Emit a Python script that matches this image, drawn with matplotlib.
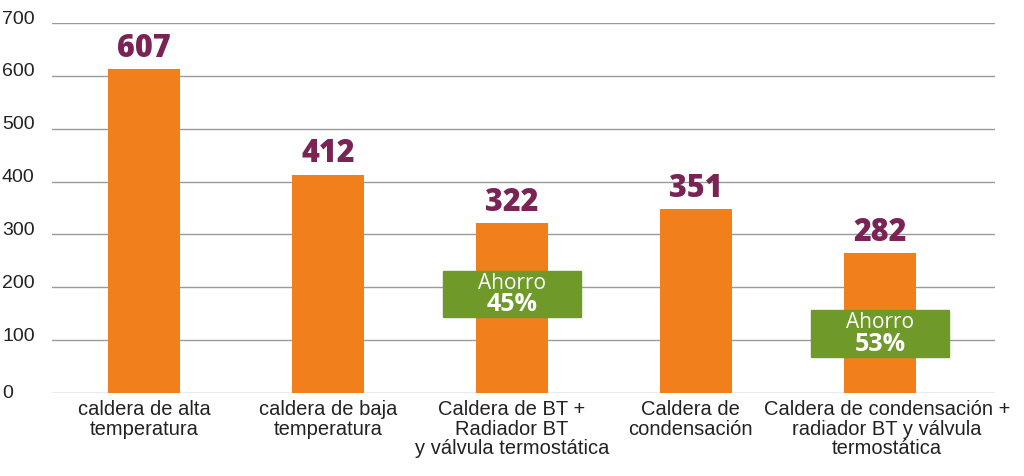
import numpy as np
import matplotlib.pyplot as plt
import matplotlib.transforms as mtransforms

categories = ["caldera de alta\ntemperatura",
              "caldera de baja\ntemperatura",
              "Caldera de BT +\nRadiador BT\ny válvula termostática",
              "Caldera de\ncondensación",
              "Caldera de condensación +\nradiador BT y válvula\ntermostática"]
bar_heights = [613, 413, 322, 348, 265]
value_labels = [607, 412, 322, 351, 282]
savings_idx = [2, 4]
savings_text = ["Ahorro\n45%", "Ahorro\n53%"]
savings_box = [(143, 230), (68, 157)]  # (bottom, top) in data units
yticks = [0, 100, 200, 300, 400, 500, 600, 700]

orange = "#f07f1c"
green = "#6f9a2a"
purple = "#7a2456"

fig = plt.figure(figsize=(10.24, 4.76), dpi=100)
ax = fig.add_axes([52 / 1024, 83 / 476, 943 / 1024, 370 / 476])

x = np.arange(len(categories))
ax.bar(x, bar_heights, width=0.39, color=orange, zorder=2)

for xi, h, v in zip(x, bar_heights, value_labels):
    ax.text(xi, h + 8, str(v), ha="center", va="bottom", color=purple,
            fontsize=22, fontweight="heavy", family="Open Sans", zorder=4)

for i, txt, (b, t) in zip(savings_idx, savings_text, savings_box):
    ax.add_patch(plt.Rectangle((i - 0.375, b), 0.75, t - b, color=green, zorder=3))
    lines = txt.split("\n")
    ax.text(i, b + (t - b) * 0.74, lines[0], ha="center", va="center",
            color="white", fontsize=15, fontweight="medium",
            family="Open Sans", zorder=4)
    ax.text(i, b + (t - b) * 0.27, lines[1], ha="center", va="center",
            color="white", fontsize=18, fontweight="bold", family="Open Sans", zorder=4)

ax.set_xlim(-0.5, 4.625)
ax.set_ylim(0, 700)
ax.set_yticks(yticks)
ax.yaxis.grid(True, color="#9a9a9a", lw=1, zorder=1)
ax.tick_params(axis="both", length=0)
ax.set_yticklabels([])
for s in ax.spines.values():
    s.set_visible(False)

for yt in yticks:
    ax.annotate(str(yt), xy=(0, yt), xycoords=("figure pixels", "data"),
                xytext=(2, 4 if yt else 0), textcoords="offset pixels",
                ha="left", va="center", fontsize=14, color="#222222",
                family="Liberation Sans")

ax.set_xticks(x)
ax.set_xticklabels(categories, fontsize=14.5, color="#222222",
                   family="Liberation Sans", linespacing=1.05)
ax.tick_params(axis="x", pad=5)

# nudge the two right-hand labels apart like in the original
shifts = [0, 0, 0, -6, 7]
for lab, dx in zip(ax.get_xticklabels(), shifts):
    lab.set_transform(lab.get_transform() +
                      mtransforms.ScaledTranslation(dx / 100, 0, fig.dpi_scale_trans))

fig.savefig("out.png", dpi=100, facecolor="white")
